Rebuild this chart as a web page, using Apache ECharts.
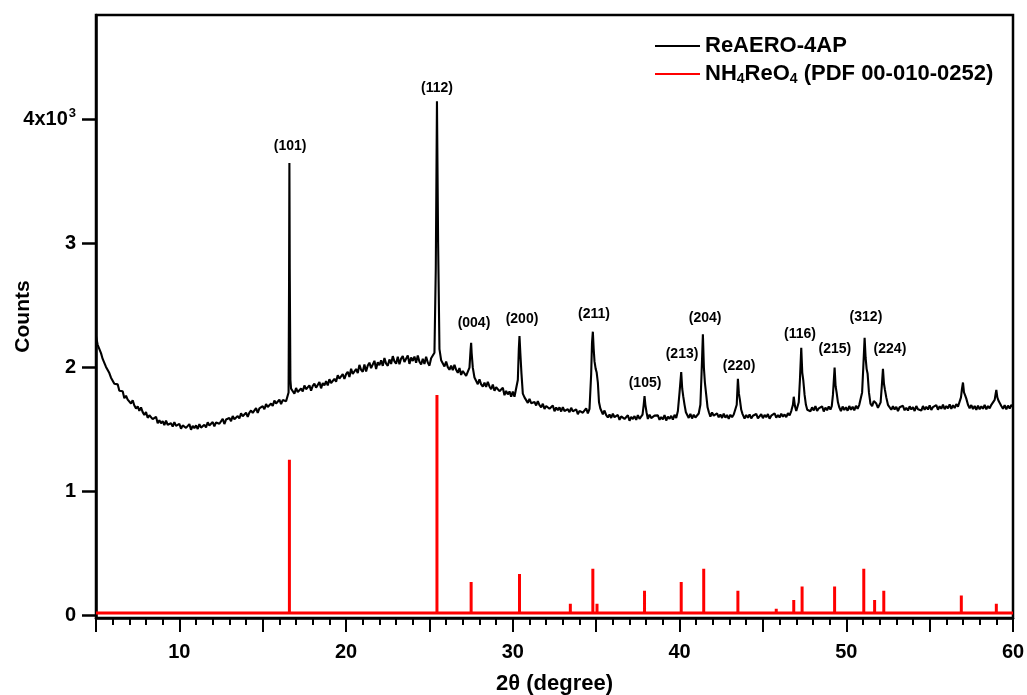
<!DOCTYPE html>
<html>
<head>
<meta charset="utf-8">
<script src="https://cdn.jsdelivr.net/npm/echarts@6/dist/echarts.min.js"></script>
<style>
  html, body { margin: 0; padding: 0; background: #fff; }
  #chart { width: 1027px; height: 695px; }
</style>
</head>
<body>
<div id="chart"></div>
<script>
// XRD 图谱: ReAERO-4AP 实测曲线 + NH4ReO4 标准卡片 (PDF 00-010-0252)

// 实测扫描 [2theta, counts]
var reaeroScan = [
  [5.0,2254],[5.1,2184],[5.2,2182],[5.3,2117],[5.4,2070],[5.5,2065],[5.6,2006],[5.7,2014],[5.8,1956],[5.9,1919],
  [6.0,1931],[6.1,1870],[6.2,1876],[6.3,1865],[6.4,1813],[6.5,1801],[6.6,1810],[6.7,1753],[6.8,1773],[6.9,1742],
  [7.0,1754],[7.1,1711],[7.2,1737],[7.3,1694],[7.4,1670],[7.5,1687],[7.6,1651],[7.7,1679],[7.8,1641],[7.9,1617],
  [8.0,1641],[8.1,1595],[8.2,1616],[8.3,1621],[8.4,1585],[8.5,1584],[8.6,1603],[8.7,1551],[8.8,1576],[8.9,1551],
  [9.0,1569],[9.1,1536],[9.2,1572],[9.3,1539],[9.4,1525],[9.5,1551],[9.6,1524],[9.7,1560],[9.8,1530],[9.9,1514],
  [10.0,1546],[10.1,1507],[10.2,1534],[10.3,1545],[10.4,1514],[10.5,1519],[10.6,1544],[10.7,1499],[10.8,1530],[10.9,1511],
  [11.0,1534],[11.1,1505],[11.2,1544],[11.3,1516],[11.4,1506],[11.5,1539],[11.6,1518],[11.7,1559],[11.8,1534],[11.9,1523],
  [12.0,1561],[12.1,1526],[12.2,1558],[12.3,1573],[12.4,1547],[12.5,1556],[12.6,1586],[12.7,1545],[12.8,1581],[12.9,1566],
  [13.0,1594],[13.1,1568],[13.2,1610],[13.3,1584],[13.4,1576],[13.5,1610],[13.6,1590],[13.7,1632],[13.8,1608],[13.9,1598],
  [14.0,1636],[14.1,1603],[14.2,1637],[14.3,1654],[14.4,1635],[14.5,1647],[14.6,1673],[14.7,1634],[14.8,1672],[14.9,1659],
  [15.0,1689],[15.1,1664],[15.2,1707],[15.3,1682],[15.4,1680],[15.5,1710],[15.6,1691],[15.7,1734],[15.8,1711],[15.9,1702],
  [16.0,1741],[16.1,1706],[16.2,1738],[16.3,1754],[16.4,1728],[16.5,1744],
  [16.55,1800],[16.58,2700],[16.6,3650],[16.62,2800],[16.66,1900],[16.7,1830],
  [16.8,1823],[16.9,1789],[17.0,1836],[17.1,1803],[17.2,1793],[17.3,1832],[17.4,1807],[17.5,1856],[17.6,1826],[17.7,1812],
  [17.8,1857],[17.9,1815],[18.0,1852],[18.1,1870],[18.2,1838],[18.3,1848],[18.4,1883],[18.5,1833],[18.6,1876],[18.7,1857],
  [18.8,1890],[18.9,1857],[19.0,1906],[19.1,1876],[19.2,1868],[19.3,1910],[19.4,1887],[19.5,1939],[19.6,1911],[19.7,1900],
  [19.8,1947],[19.9,1908],[20.0,1947],[20.1,1967],[20.2,1925],[20.3,1991],[20.4,1949],[20.5,1935],[20.6,1989],[20.7,1956],
  [20.8,2022],[20.9,1983],[21.0,1966],[21.1,2025],[21.2,1968],[21.3,2017],[21.4,2040],[21.5,1996],[21.6,2009],[21.7,2055],
  [21.8,1989],[21.9,2044],[22.0,2019],[22.1,2059],[22.2,2014],[22.3,2077],[22.4,2032],[22.5,2015],[22.6,2066],[22.7,2030],
  [22.8,2093],[22.9,2051],[23.0,2031],[23.1,2087],[23.2,2027],[23.3,2073],[23.4,2093],[23.5,2046],[23.6,2056],[23.7,2099],
  [23.8,2030],[23.9,2082],[24.0,2054],[24.1,2089],[24.2,2039],[24.3,2097],[24.4,2047],[24.5,2025],[24.6,2071],[24.7,2030],
  [24.8,2088],[24.9,2041],[25.0,2016],[25.1,2076],[25.2,2070],
  [25.3,2120],[25.38,2800],[25.45,4150],[25.52,3000],[25.6,2150],[25.7,2060],
  [25.8,2058],[25.9,2009],[26.0,2049],[26.1,2004],[26.2,1983],[26.3,2016],[26.4,1980],[26.5,2023],[26.6,1982],[26.7,1958],
  [26.8,1997],[26.9,1941],[27.0,1973],[27.1,1981],[27.2,1934],[27.3,1937],
  [27.4,2000],[27.47,2150],[27.5,2200],[27.53,2120],[27.6,2000],[27.7,1920],
  [27.8,1907],[27.9,1866],[28.0,1906],[28.1,1865],[28.2,1847],[28.3,1878],[28.4,1845],[28.5,1886],[28.6,1848],[28.7,1826],
  [28.8,1863],[28.9,1813],[29.0,1842],[29.1,1851],[29.2,1810],[29.3,1811],[29.4,1837],[29.5,1778],[29.6,1812],[29.7,1784],
  [29.8,1808],[29.9,1766],[30.0,1806],[30.1,1765],[30.2,1758],
  [30.3,1900],[30.36,2150],[30.4,2255],[30.45,2120],[30.52,1950],[30.6,1790],[30.7,1760],
  [30.8,1754],[30.9,1716],[31.0,1747],[31.1,1713],[31.2,1697],[31.3,1723],[31.4,1695],[31.5,1729],[31.6,1697],[31.7,1679],
  [31.8,1709],[31.9,1667],[32.0,1691],[32.1,1700],[32.2,1668],[32.3,1671],[32.4,1695],[32.5,1648],[32.6,1678],[32.7,1657],
  [32.8,1679],[32.9,1646],[33.0,1682],[33.1,1650],[33.2,1637],[33.3,1665],[33.4,1640],[33.5,1676],[33.6,1647],[33.7,1631],
  [33.8,1664],[33.9,1624],[34.0,1651],[34.1,1664],[34.2,1636],[34.3,1644],[34.4,1672],[34.5,1631],[34.6,1668],
  [34.7,1950],[34.75,2200],[34.8,2290],[34.85,2150],[34.9,2050],[34.97,1990],[35.03,1960],[35.1,1880],[35.17,1720],[35.25,1670],
  [35.3,1664],[35.4,1624],[35.5,1654],[35.6,1617],[35.7,1598],[35.8,1622],[35.9,1594],[36.0,1629],[36.1,1600],[36.2,1585],
  [36.3,1618],[36.4,1579],[36.5,1606],[36.6,1617],[36.7,1586],[36.8,1591],[36.9,1616],[37.0,1571],[37.1,1603],[37.2,1585],
  [37.3,1609],[37.4,1579],[37.5,1617],[37.6,1587],[37.7,1578],[37.78,1620],
  [37.85,1700],[37.9,1770],[37.95,1700],[38.02,1640],
  [38.1,1586],[38.2,1621],[38.3,1593],[38.4,1579],[38.5,1613],[38.6,1597],[38.7,1615],[38.8,1579],[38.9,1601],[39.0,1583],
  [39.1,1617],[39.2,1573],[39.3,1605],[39.4,1587],[39.5,1611],[39.6,1581],[39.7,1619],[39.8,1593],
  [39.9,1650],[40.0,1800],[40.1,1965],[40.16,1830],[40.22,1770],[40.3,1700],[40.38,1640],
  [40.45,1628],[40.55,1594],[40.65,1626],[40.75,1590],[40.85,1620],[40.95,1598],[41.05,1614],[41.15,1630],
  [41.25,1700],[41.32,1950],[41.4,2270],[41.46,2000],[41.52,1880],[41.6,1780],[41.68,1680],[41.76,1640],
  [41.85,1605],[41.95,1638],[42.05,1612],[42.15,1596],[42.25,1630],[42.35,1600],[42.45,1622],[42.55,1594],[42.65,1628],[42.75,1596],
  [42.85,1618],[42.95,1586],[43.05,1620],[43.15,1600],[43.25,1622],[43.35,1612],
  [43.43,1700],[43.5,1910],[43.56,1790],[43.62,1740],[43.7,1660],[43.78,1625],
  [43.9,1590],[44.0,1618],[44.1,1596],[44.2,1622],[44.3,1590],[44.4,1612],[44.5,1598],[44.6,1626],[44.7,1590],[44.8,1606],
  [44.9,1624],[45.0,1592],[45.1,1618],[45.2,1600],[45.3,1625],[45.4,1588],[45.5,1612],[45.6,1606],[45.7,1630],[45.8,1596],
  [45.9,1618],[46.0,1598],[46.1,1628],[46.2,1604],[46.3,1622],[46.4,1600],[46.5,1632],[46.6,1615],[46.7,1650],
  [46.8,1700],[46.85,1765],[46.92,1690],[47.0,1650],[47.08,1665],
  [47.15,1720],[47.22,1900],[47.3,2160],[47.36,1960],[47.42,1900],[47.5,1780],[47.58,1700],[47.66,1660],
  [47.75,1676],[47.85,1648],[47.95,1680],[48.05,1655],[48.15,1690],[48.25,1650],[48.35,1672],[48.45,1660],[48.55,1688],[48.65,1646],
  [48.75,1678],[48.85,1656],[48.95,1686],[49.05,1662],[49.13,1690],
  [49.2,1780],[49.3,2000],[49.36,1850],[49.42,1800],[49.5,1720],[49.58,1680],
  [49.68,1650],[49.78,1686],[49.88,1658],[49.98,1680],[50.08,1652],[50.18,1690],[50.28,1660],[50.38,1684],[50.48,1656],[50.58,1692],
  [50.68,1668],[50.78,1700],[50.86,1690],
  [50.95,1800],[51.02,2000],[51.1,2240],[51.16,2080],[51.22,1990],[51.28,1950],[51.36,1800],[51.45,1710],[51.55,1690],
  [51.65,1730],[51.72,1745],[51.8,1710],[51.9,1675],[51.98,1690],[52.06,1720],
  [52.13,1850],[52.2,1990],[52.26,1870],[52.32,1820],[52.4,1760],[52.5,1700],[52.6,1685],
  [52.7,1660],[52.8,1688],[52.9,1662],[53.0,1684],[53.1,1650],[53.2,1680],[53.3,1664],[53.4,1692],[53.5,1656],[53.6,1676],
  [53.7,1654],[53.8,1688],[53.9,1662],[54.0,1682],[54.1,1650],[54.2,1690],[54.3,1664],[54.4,1678],[54.5,1654],[54.6,1690],
  [54.7,1660],[54.8,1684],[54.9,1662],[55.0,1696],[55.1,1658],[55.2,1682],[55.3,1666],[55.4,1698],[55.5,1660],[55.6,1688],
  [55.7,1668],[55.8,1702],[55.9,1664],[56.0,1690],[56.1,1672],[56.2,1704],[56.3,1668],[56.4,1696],[56.5,1674],[56.6,1706],
  [56.7,1684],[56.8,1700],
  [56.88,1760],[56.94,1830],[57.0,1880],[57.06,1800],[57.12,1780],[57.2,1750],[57.3,1700],
  [57.4,1672],[57.5,1698],[57.6,1666],[57.7,1690],[57.8,1660],[57.9,1694],[58.0,1664],[58.1,1688],[58.2,1668],[58.3,1700],
  [58.4,1664],[58.5,1690],[58.6,1672],[58.7,1700],[58.8,1690],
  [58.9,1740],[58.96,1790],[59.0,1820],[59.06,1760],[59.14,1730],[59.22,1710],
  [59.3,1690],[59.4,1668],[59.5,1698],[59.6,1664],[59.7,1694],[59.8,1670],[59.9,1700],[60.0,1682]
];

// 标准卡片谱线
var pdfAngle  = [16.6, 25.45, 27.5, 30.4, 33.45, 34.8, 35.05, 37.9, 40.1, 41.45, 43.5, 45.8, 46.85, 47.35, 49.3, 51.05, 51.7, 52.25, 56.9, 59.0];
var pdfCounts = [1256, 1780, 270, 336, 94, 377, 94, 199, 270, 377, 199, 54, 126, 234, 234, 377, 126, 199, 161, 94];
var pdfBase = 20;

// 晶面标注
var hklNames = ['(101)','(112)','(004)','(200)','(211)','(105)','(213)','(204)','(220)','(116)','(215)','(312)','(224)'];
var hklAngle = [16.64, 25.45, 27.67, 30.55, 34.87, 37.93, 40.15, 41.53, 43.57, 47.22, 49.32, 51.18, 52.62];
var hklCounts = [3788, 4256, 2361, 2393, 2433, 1877, 2111, 2401, 2014, 2272, 2151, 2409, 2151];

var xTicks = [10, 20, 30, 40, 50, 60];
var yTicks = [0, 1000, 2000, 3000, 4000];

var seriesNames = ['ReAERO-4AP', 'NH4ReO4 (PDF 00-010-0252)'];

// 竖线谱: 基线 -> 峰顶 -> 基线
var pdfLine = [[5, pdfBase]];
pdfAngle.forEach(function (a, i) {
    pdfLine.push([a, pdfBase], [a, pdfCounts[i]], [a, pdfBase]);
});
pdfLine.push([60, pdfBase]);

var hklData = hklNames.map(function (n, i) {
    return { name: n, value: [hklAngle[i], hklCounts[i]] };
});

var FONT = '"Liberation Sans", Arial, sans-serif';

var option = {
    animation: false,
    backgroundColor: '#fff',
    grid: {
        left: 96, right: 14, top: 15, bottom: 77,
        outerBoundsMode: 'none',
        containLabel: false,
        show: true, borderColor: '#000', borderWidth: 2.5
    },
    legend: {
        orient: 'vertical',
        left: 650, top: 30,
        itemWidth: 45, itemHeight: 2, itemGap: 6,
        icon: 'rect',
        data: seriesNames,
        textStyle: {
            fontFamily: FONT, fontWeight: 'bold', fontSize: 22, color: '#000',
            rich: {
                b: { fontFamily: FONT, fontWeight: 'bold', fontSize: 22, color: '#000', lineHeight: 24 },
                s: { fontFamily: FONT, fontWeight: 'bold', fontSize: 14, color: '#000', lineHeight: 24, verticalAlign: 'bottom', padding: [8, 0, 0, 0] }
            }
        },
        formatter: function (name) {
            if (name === seriesNames[1]) {
                return '{b|NH}{s|4}{b|ReO}{s|4}{b| (PDF 00-010-0252)}';
            }
            return '{b|' + name + '}';
        }
    },
    xAxis: {
        type: 'value',
        min: 5, max: 60, interval: 5,
        name: '2θ (degree)',
        nameLocation: 'middle',
        nameGap: 55,
        nameMoveOverlap: false,
        nameTextStyle: { fontFamily: FONT, fontWeight: 'bold', fontSize: 22, color: '#000' },
        axisLine: { show: true, onZero: false, lineStyle: { color: '#000', width: 2.5 } },
        axisTick: { show: true, inside: false, length: 14, lineStyle: { color: '#000', width: 2 } },
        minorTick: { show: true, splitNumber: 5, length: 7, lineStyle: { color: '#000', width: 2 } },
        splitLine: { show: false },
        axisLabel: {
            margin: 24,
            fontFamily: FONT, fontWeight: 'bold', fontSize: 20, color: '#000',
            formatter: function (v) { return xTicks.indexOf(v) >= 0 ? String(v) : ''; }
        }
    },
    yAxis: {
        type: 'value',
        min: -20, max: 4845,
        name: 'Counts',
        nameLocation: 'middle',
        nameGap: 62,
        nameMoveOverlap: false,
        nameTextStyle: { fontFamily: FONT, fontWeight: 'bold', fontSize: 21, color: '#000' },
        axisLine: { show: true, onZero: false, lineStyle: { color: '#000', width: 2.5 } },
        axisTick: { show: true, length: 14, customValues: yTicks, lineStyle: { color: '#000', width: 2.5 } },
        splitLine: { show: false },
        axisLabel: {
            margin: 20,
            customValues: yTicks,
            formatter: function (v) {
                if (v === 4000) return '{m|4x10}{sup|3}';
                return '{m|' + (v / 1000) + '}';
            },
            rich: {
                m: { fontFamily: FONT, fontWeight: 'bold', fontSize: 20, color: '#000' },
                sup: { fontFamily: FONT, fontWeight: 'bold', fontSize: 13, color: '#000', verticalAlign: 'top', padding: [0, 0, 12, 1] }
            }
        }
    },
    series: [
        {
            name: seriesNames[1],
            type: 'line',
            data: pdfLine,
            symbol: 'none',
            color: '#ff0000',
            lineStyle: { color: '#ff0000', width: 3, join: 'bevel', cap: 'butt' },
            z: 2
        },
        {
            name: seriesNames[0],
            type: 'line',
            data: reaeroScan,
            symbol: 'none',
            sampling: null,
            color: '#000',
            lineStyle: { color: '#000', width: 2.1 },
            z: 3
        },
        {
            name: 'hkl',
            type: 'scatter',
            data: hklData,
            symbolSize: 0,
            silent: true,
            itemStyle: { opacity: 1 },
            label: {
                show: true,
                position: 'inside',
                formatter: '{b}',
                opacity: 1,
                fontFamily: FONT, fontWeight: 'bold', fontSize: 14, color: '#000'
            },
            z: 4
        }
    ]
};

var chart = echarts.init(document.getElementById('chart'));
chart.setOption(option);
</script>
</body>
</html>
